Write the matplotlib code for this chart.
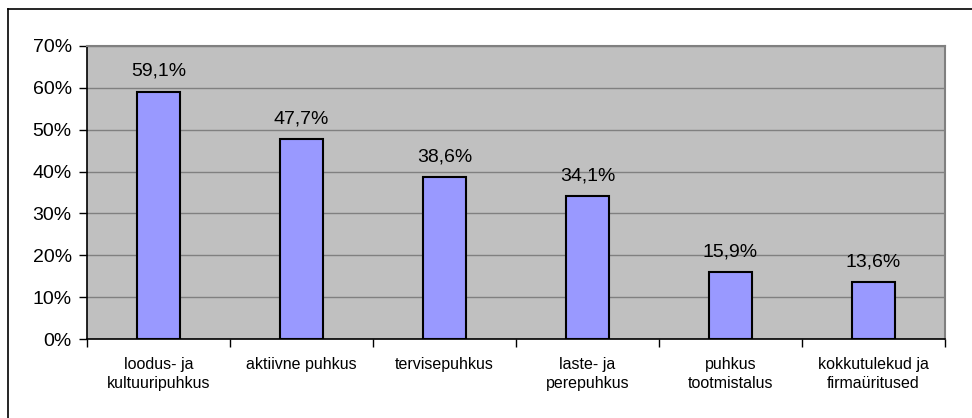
import matplotlib.pyplot as plt
import numpy as np

categories = ['loodus- ja\nkultuuripuhkus', 'aktiivne puhkus', 'tervisepuhkus',
              'laste- ja\nperepuhkus', 'puhkus\ntootmistalus', 'kokkutulekud ja\nfirmaüritused']
values = [59.1, 47.7, 38.6, 34.1, 15.9, 13.6]
yticks = [0, 10, 20, 30, 40, 50, 60, 70]

plt.rcParams['font.family'] = ['Liberation Sans', 'DejaVu Sans']

fig = plt.figure(figsize=(9.72, 4.18), dpi=100)
ax = fig.add_axes([87 / 972, 1 - 339 / 418, (945 - 87) / 972, (339 - 46) / 418])
ax.set_facecolor('#C0C0C0')

x = np.arange(len(values))
ax.bar(x, values, width=0.3, color='#9999FF', edgecolor='black', linewidth=1.5, zorder=3)
for xi, v in zip(x, values):
    ax.text(xi, v + 3.8, f'{v:.1f}%'.replace('.', ','), ha='center', va='baseline', fontsize=14)

ax.set_xlim(-0.5, len(values) - 0.5)
ax.set_ylim(0, 70)
ax.set_yticks(yticks)
ax.set_yticklabels([f'{t}%' for t in yticks], fontsize=14)
ax.yaxis.grid(True, color='#808080', linewidth=1, zorder=0)
ax.tick_params(axis='y', direction='out', length=6, width=1, pad=5)

# category labels between boundary ticks
ax.set_xticks(np.arange(len(values) + 1) - 0.5)
ax.set_xticklabels([])
ax.tick_params(axis='x', direction='out', length=6, width=1)
ax.set_xticks(x, minor=True)
ax.set_xticklabels(categories, minor=True, fontsize=11.5, linespacing=1.3)
ax.tick_params(axis='x', which='minor', length=0, pad=13)

for s in ['left', 'bottom']:
    ax.spines[s].set_color('black')
    ax.spines[s].set_linewidth(1.2)
for s in ['top', 'right']:
    ax.spines[s].set_color('#808080')
    ax.spines[s].set_linewidth(1.5)

# outer chart border (left and top visible)
fig.add_artist(plt.Line2D([7.5 / 972, 7.5 / 972], [0, 1 - 8.5 / 418], color='black', lw=1.2,
                          transform=fig.transFigure))
fig.add_artist(plt.Line2D([7.5 / 972, 1], [1 - 8.5 / 418, 1 - 8.5 / 418], color='black', lw=1.2,
                          transform=fig.transFigure))

fig.savefig('out.png', dpi=100)
